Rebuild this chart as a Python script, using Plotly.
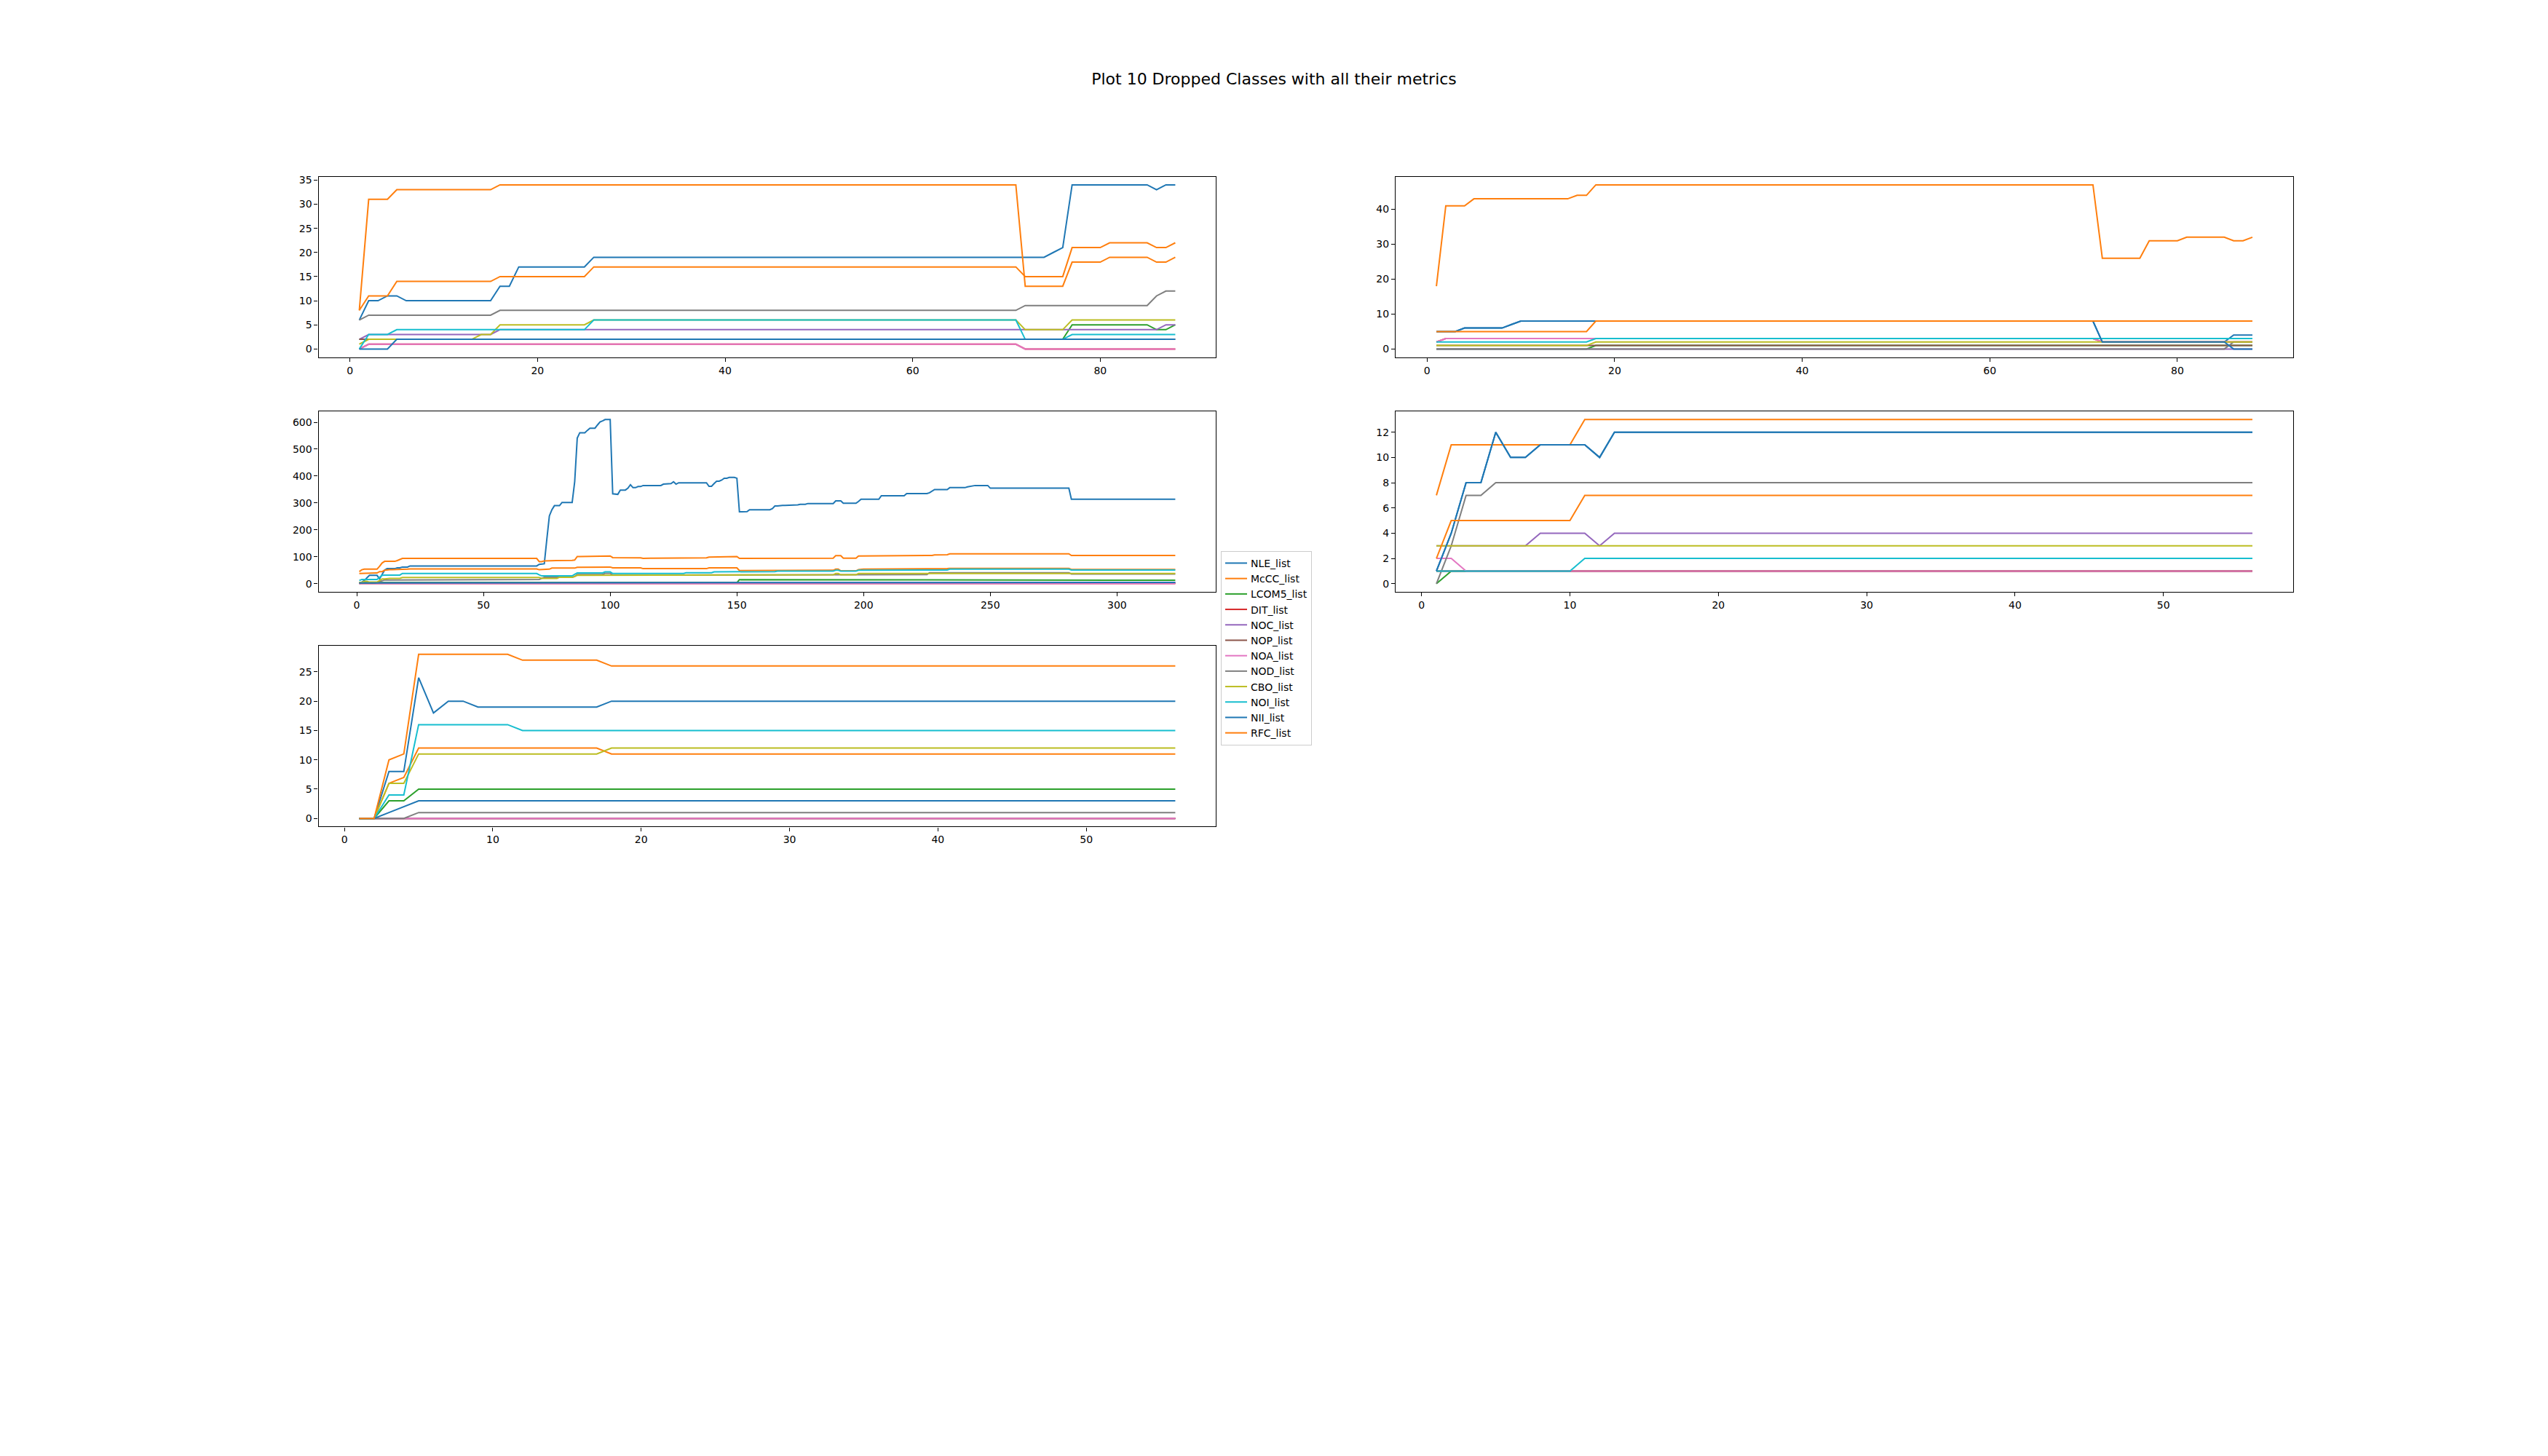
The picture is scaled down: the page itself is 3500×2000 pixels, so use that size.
import plotly.graph_objects as go

# ---------------- data ----------------
METRICS = ["NLE_list", "McCC_list", "LCOM5_list", "DIT_list", "NOC_list", "NOP_list",
           "NOA_list", "NOD_list", "CBO_list", "NOI_list", "NII_list", "RFC_list"]
COLORS = ["#1f77b4", "#ff7f0e", "#2ca02c", "#d62728", "#9467bd", "#8c564b",
          "#e377c2", "#7f7f7f", "#bcbd22", "#17becf", "#1f77b4", "#ff7f0e"]

# Every series is written as [first version index, value] change points;
# the value is held for each version until the next change point.

# ---- class 1 (versions 1..88)
C1_LEN = 88
C1_NLE = [[1, 6], [2, 10], [4, 11], [6, 10], [16, 13], [18, 17], [26, 19], [75, 20], [76, 21], [77, 34], [86, 33], [87, 34]]
C1_McCC = [[1, 8], [2, 11], [5, 14], [16, 15], [26, 17], [72, 15], [77, 21], [81, 22], [86, 21], [88, 22]]
C1_LCOM5 = [[1, 2], [77, 5], [86, 4], [88, 5]]
C1_DIT = [[1, 0], [2, 1], [72, 0]]
C1_NOC = [[1, 2], [2, 3], [16, 4], [87, 5]]
C1_NOP = [[1, 2]]
C1_NOA = [[1, 0], [2, 1], [72, 0]]
C1_NOD = [[1, 6], [2, 7], [16, 8], [72, 9], [86, 11], [87, 12]]
C1_CBO = [[1, 1], [2, 2], [14, 3], [16, 5], [26, 6], [72, 4], [77, 6]]
C1_NOI = [[1, 0], [2, 3], [5, 4], [26, 6], [72, 2], [77, 3]]
C1_NII = [[1, 0], [5, 2]]
C1_RFC = [[1, 8], [2, 31], [5, 33], [16, 34], [72, 13], [77, 18], [81, 19], [86, 18], [88, 19]]

# ---- class 2 (versions 1..88)
C2_LEN = 88
C2_NLE = [[1, 5], [4, 6], [9, 7], [10, 8], [72, 2], [86, 4]]
C2_McCC = [[1, 18], [2, 41], [5, 43], [16, 44], [18, 47], [72, 26], [77, 31], [81, 32], [86, 31], [88, 32]]
C2_LCOM5 = [[1, 0], [18, 1]]
C2_DIT = [[1, 2], [2, 3], [72, 2]]
C2_NOC = [[1, 0]]
C2_NOP = [[1, 1]]
C2_NOA = [[1, 2], [2, 3], [72, 2]]
C2_NOD = [[1, 0], [86, 2]]
C2_CBO = [[1, 1], [18, 2]]
C2_NOI = [[1, 2], [18, 3]]
C2_NII = [[1, 5], [4, 6], [9, 7], [10, 8], [72, 2], [86, 0]]
C2_RFC = [[1, 5], [18, 8]]

# ---- class 3 (versions 1..323)
C3_LEN = 323
C3_NLE = [[1, 0], [2, 6], [3, 12], [4, 22], [5, 31], [9, 18], [10, 35], [11, 51], [12, 56], [16, 59], [18, 62],
          [21, 66], [72, 72], [74, 74], [75, 165], [76, 252], [77, 275], [78, 290], [81, 302], [86, 379],
          [87, 541], [88, 561], [91, 570], [92, 578], [95, 590], [96, 601], [97, 605], [98, 610], [101, 334],
          [102, 332], [104, 348], [107, 355], [108, 368], [109, 357], [111, 361], [113, 365], [121, 370],
          [124, 372], [125, 379], [126, 370], [127, 375], [134, 376], [138, 375], [139, 362], [141, 372],
          [142, 381], [144, 385], [145, 392], [147, 395], [150, 392], [151, 267], [153, 268], [155, 275],
          [164, 279], [165, 289], [167, 291], [173, 293], [175, 295], [178, 298], [189, 308], [192, 299],
          [198, 306], [199, 314], [207, 327], [217, 335], [226, 338], [227, 344], [228, 350], [234, 357],
          [241, 360], [242, 362], [244, 365], [250, 355], [282, 314]]
C3_McCC = [[1, 38], [8, 40], [9, 45], [11, 50], [12, 52], [18, 54], [21, 55], [72, 52], [75, 54], [77, 58],
           [87, 61], [100, 62], [101, 59], [113, 56], [139, 59], [151, 49], [187, 50], [189, 54], [191, 48],
           [198, 52], [199, 54], [227, 56], [234, 57], [282, 53]]
C3_LCOM5 = [[1, 4], [151, 15], [165, 14], [227, 15], [282, 13]]
C3_DIT = [[1, 1]]
C3_NOC = [[1, 2], [151, 4]]
C3_NOP = [[1, 3]]
C3_NOA = [[1, 1]]
C3_NOD = [[1, 2], [8, 5], [9, 8], [10, 11], [11, 14], [18, 16], [73, 20], [74, 24], [86, 27], [87, 34],
          [98, 39], [101, 32], [113, 34], [226, 41], [244, 43], [250, 41], [282, 36]]
C3_CBO = [[1, 5], [3, 9], [5, 6], [9, 12], [10, 18], [12, 20], [18, 23], [73, 20], [80, 24], [86, 27],
          [87, 31], [101, 32], [113, 31], [140, 32], [155, 33], [189, 38], [191, 33], [198, 38]]
C3_NOI = [[1, 12], [2, 16], [9, 24], [10, 31], [11, 32], [18, 38], [72, 33], [73, 29], [86, 35], [87, 40],
          [98, 44], [101, 38], [130, 41], [141, 44], [155, 45], [166, 47], [189, 50], [191, 47], [198, 50],
          [228, 51], [234, 54], [282, 51]]
C3_NII = [[1, 3], [151, 5]]
C3_RFC = [[1, 45], [2, 52], [3, 54], [9, 65], [10, 77], [11, 83], [16, 86], [17, 90], [18, 94], [72, 82],
          [74, 85], [76, 87], [86, 88], [87, 101], [90, 103], [101, 97], [108, 96], [113, 94], [114, 95],
          [130, 96], [139, 99], [142, 101], [151, 94], [155, 93], [166, 95], [189, 104], [192, 95], [198, 103],
          [203, 105], [228, 107], [233, 108], [234, 111], [282, 105]]

# ---- class 4 (versions 1..56)
C4_LEN = 56
C4_NLE = [[1, 1], [2, 4], [3, 8], [5, 12], [6, 10], [8, 11], [12, 10], [13, 12]]
C4_McCC = [[1, 7], [2, 11], [11, 13]]
C4_LCOM5 = [[1, 0], [2, 1]]
C4_DIT = [[1, 1]]
C4_NOC = [[1, 3], [8, 4], [12, 3], [13, 4]]
C4_NOP = [[1, 1]]
C4_NOA = [[1, 2], [3, 1]]
C4_NOD = [[1, 0], [2, 3], [3, 7], [5, 8]]
C4_CBO = [[1, 3]]
C4_NOI = [[1, 1], [11, 2]]
C4_NII = [[1, 1], [2, 4], [3, 8], [5, 12], [6, 10], [8, 11], [12, 10], [13, 12]]
C4_RFC = [[1, 2], [2, 5], [11, 7]]

# ---- class 5 (versions 1..56)
C5_LEN = 56
C5_NLE = [[1, 0], [3, 8], [5, 24], [6, 18], [7, 20], [9, 19], [18, 20]]
C5_McCC = [[1, 0], [3, 6], [4, 7], [5, 12], [18, 11]]
C5_LCOM5 = [[1, 0], [3, 3], [5, 5]]
C5_DIT = [[1, 0]]
C5_NOC = [[1, 0]]
C5_NOP = [[1, 0]]
C5_NOA = [[1, 0]]
C5_NOD = [[1, 0], [5, 1]]
C5_CBO = [[1, 0], [3, 6], [5, 11], [18, 12]]
C5_NOI = [[1, 0], [3, 4], [5, 16], [12, 15]]
C5_NII = [[1, 0], [3, 1], [4, 2], [5, 3]]
C5_RFC = [[1, 0], [3, 10], [4, 11], [5, 28], [12, 27], [18, 26]]

TITLE = "Plot 10 Dropped Classes with all their metrics"

CLASSES = [
    (C1_LEN, [C1_NLE, C1_McCC, C1_LCOM5, C1_DIT, C1_NOC, C1_NOP, C1_NOA, C1_NOD, C1_CBO, C1_NOI, C1_NII, C1_RFC]),
    (C2_LEN, [C2_NLE, C2_McCC, C2_LCOM5, C2_DIT, C2_NOC, C2_NOP, C2_NOA, C2_NOD, C2_CBO, C2_NOI, C2_NII, C2_RFC]),
    (C3_LEN, [C3_NLE, C3_McCC, C3_LCOM5, C3_DIT, C3_NOC, C3_NOP, C3_NOA, C3_NOD, C3_CBO, C3_NOI, C3_NII, C3_RFC]),
    (C4_LEN, [C4_NLE, C4_McCC, C4_LCOM5, C4_DIT, C4_NOC, C4_NOP, C4_NOA, C4_NOD, C4_CBO, C4_NOI, C4_NII, C4_RFC]),
    (C5_LEN, [C5_NLE, C5_McCC, C5_LCOM5, C5_DIT, C5_NOC, C5_NOP, C5_NOA, C5_NOD, C5_CBO, C5_NOI, C5_NII, C5_RFC]),
]


def expand(changes, n):
    """Turn [start, value] change points into one value per version 1..n."""
    out = []
    k = 0
    for x in range(1, n + 1):
        while k + 1 < len(changes) and changes[k + 1][0] <= x:
            k += 1
        out.append(changes[k][1])
    return out


# ---------------- layout (matplotlib-like grid: 5 rows x 2 cols) ----------------
W, H = 3500, 2000
LEFT, RIGHT, TOP, BOTTOM = 0.125, 0.9, 0.88, 0.11
NCOLS, NROWS, WSPACE, HSPACE = 2, 5, 0.2, 0.3
cw = (RIGHT - LEFT) / (NCOLS + WSPACE * (NCOLS - 1))
rh = (TOP - BOTTOM) / (NROWS + HSPACE * (NROWS - 1))

# (row, col) of each class panel
POS = [(0, 0), (0, 1), (1, 0), (1, 1), (2, 0)]
XDTICK = [20, 20, 50, 10, 10]
YDTICK = [5, 10, 100, 2, 5]

fig = go.Figure()
layout = {}
for i, ((n, series), (r, c)) in enumerate(zip(CLASSES, POS)):
    ax = "" if i == 0 else str(i + 1)
    xs = list(range(1, n + 1))
    allv = []
    for j, ch in enumerate(series):
        ys = expand(ch, n)
        allv += ys
        fig.add_trace(go.Scatter(
            x=xs, y=ys, mode="lines", name=METRICS[j],
            line=dict(color=COLORS[j], width=2),
            xaxis="x" + ax, yaxis="y" + ax,
            showlegend=(i == 0), legendgroup=METRICS[j] + str(j),
            hoverinfo="x+y+name"))
    x0 = LEFT + c * cw * (1 + WSPACE)
    ytop = TOP - r * rh * (1 + HSPACE)
    xm = 0.05 * (n - 1)
    lo, hi = min(allv), max(allv)
    ym = 0.05 * (hi - lo)
    common = dict(showline=True, mirror=True, linecolor="black", linewidth=1.1,
                  ticks="outside", ticklen=5, tickwidth=1.1, tickcolor="black",
                  showgrid=False, zeroline=False,
                  tickfont=dict(family="DejaVu Sans", size=14, color="black"))
    layout["xaxis" + ax] = dict(domain=[x0, x0 + cw], anchor="y" + ax,
                                range=[1 - xm, n + xm], tick0=0, dtick=XDTICK[i], **common)
    layout["yaxis" + ax] = dict(domain=[ytop - rh, ytop], anchor="x" + ax,
                                range=[lo - ym, hi + ym], tick0=0, dtick=YDTICK[i], **common)

fig.update_layout(
    width=W, height=H,
    margin=dict(l=0, r=0, t=0, b=0),
    paper_bgcolor="white", plot_bgcolor="white",
    font=dict(family="DejaVu Sans", size=14, color="black"),
    title=dict(text=TITLE, x=0.5, xanchor="center", y=1 - 108 / H, yanchor="middle",
               font=dict(family="DejaVu Sans", size=22, color="black")),
    legend=dict(x=1677 / W, y=1 - 755 / H, xanchor="left", yanchor="top",
                bgcolor="rgba(255,255,255,0.8)", bordercolor="#cccccc", borderwidth=1,
                font=dict(family="DejaVu Sans", size=14, color="black"),
                tracegroupgap=0, itemwidth=30),
    **layout,
)

fig.write_html("out.html",
               config={"displayModeBar": False},
               post_script="document.body.style.margin='0';document.body.style.overflow='hidden';")
